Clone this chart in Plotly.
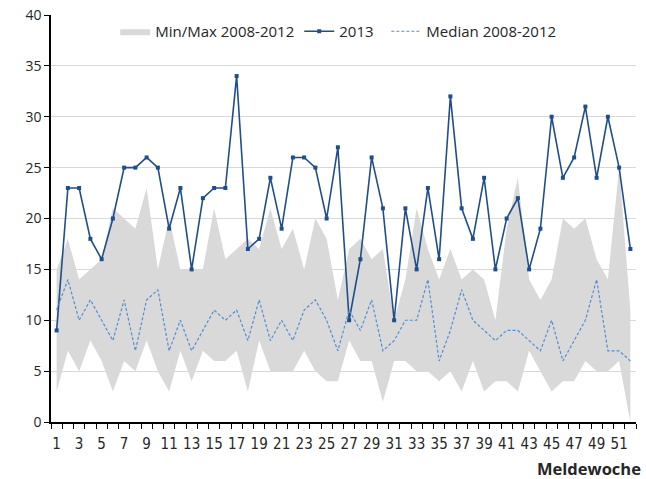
import plotly.graph_objects as go

weeks = list(range(1, 53))
cases_2013 = [9, 23, 23, 18, 16, 20, 25, 25, 26, 25,
              19, 23, 15, 22, 23, 23, 34, 17, 18, 24,
              19, 26, 26, 25, 20, 27, 10, 16, 26, 21,
              10, 21, 15, 23, 16, 32, 21, 18, 24, 15,
              20, 22, 15, 19, 30, 24, 26, 31, 24, 30, 25, 17]
median_0812 = [11, 14, 10, 12, 10, 8, 12, 7, 12, 13,
               7, 10, 7, 9, 11, 10, 11, 8, 12, 8,
               10, 8, 11, 12, 10, 7, 11, 9, 12, 7,
               8, 10, 10, 14, 6, 9, 13, 10, 9, 8,
               9, 9, 8, 7, 10, 6, 8, 10, 14, 7, 7, 6]
max_0812 = [15, 18, 14, 15, 16, 21, 20, 19, 23, 15,
            20, 15, 15, 15, 21, 16, 17, 18, 17, 21,
            17, 19, 15, 20, 18, 12, 17, 18, 16, 17,
            10, 14, 21, 17, 14, 17, 14, 15, 14, 10,
            19, 24, 14, 12, 14, 20, 19, 20, 16, 14, 25, 11]
min_0812 = [3, 7, 5, 8, 6, 3, 6, 5, 8, 5,
            3, 7, 4, 7, 6, 6, 7, 3, 8, 5,
            5, 5, 7, 5, 4, 4, 8, 6, 6, 2,
            6, 6, 5, 5, 4, 5, 3, 6, 3, 4,
            4, 3, 7, 5, 3, 4, 4, 6, 5, 5, 6, 0]
xtick_labels = [str(w) for w in weeks if w % 2 == 1]
ytick_vals = list(range(0, 41, 5))

TEXT = "#262626"
BAND = "#d9d9d9"
DARK = "#1f4e8a"
LIGHT = "#548dd4"
NBSP = "\u00a0"

fig = go.Figure()
fig.add_trace(go.Scatter(x=weeks, y=min_0812, mode="lines", line=dict(width=0, color=BAND),
                         showlegend=False, hoverinfo="skip"))
fig.add_trace(go.Scatter(x=weeks, y=max_0812, mode="lines", line=dict(width=0, color=BAND),
                         fill="tonexty", fillcolor=BAND, name="Min/Max 2008-2012"))
fig.add_trace(go.Scatter(x=weeks, y=cases_2013, mode="lines+markers", name="2013" + NBSP * 2,
                         line=dict(color=DARK, width=1.6),
                         marker=dict(symbol="square", size=4, color=DARK)))
fig.add_trace(go.Scatter(x=weeks, y=median_0812, mode="lines", name="Median 2008-2012",
                         line=dict(color=LIGHT, width=1.2, dash="3px,2px")))

fig.update_layout(
    width=646, height=479,
    margin=dict(l=51.4, r=10, t=14.7, b=57.3),
    paper_bgcolor="white", plot_bgcolor="white",
    font=dict(family="Open Sans, sans-serif", size=15, color=TEXT),
    showlegend=True,
    legend=dict(orientation="h", x=0.491, xanchor="center", y=1.0, yanchor="top",
                bgcolor="rgba(0,0,0,0)", font=dict(size=15, color=TEXT),
                itemwidth=30, traceorder="normal"),
)
fig.update_yaxes(range=[0, 40], tickvals=ytick_vals, showgrid=True, gridcolor="#d9d9d9",
                 gridwidth=1, zeroline=False, showline=True, linecolor="black", linewidth=1.5,
                 ticks="outside", ticklen=5, tickcolor="black", tickwidth=1,
                 ticklabeloverflow="allow", automargin=False,
                 tickfont=dict(size=14, color=TEXT), fixedrange=True)
fig.update_xaxes(range=[0.5, 52.5], tickvals=[w for w in weeks if w % 2 == 1], ticktext=xtick_labels,
                 showgrid=False, zeroline=False, showline=True, linecolor="black", linewidth=2,
                 ticks="outside", ticklen=7, tickcolor="rgba(0,0,0,0)", automargin=False,
                 tickfont=dict(size=15, family="Liberation Sans Narrow, DejaVu Sans Condensed, sans-serif", color=TEXT),
                 minor=dict(tickvals=[w - 0.5 for w in weeks] + [52.5], ticks="outside", ticklen=5,
                            tickcolor="black", tickwidth=1, showgrid=False),
                 fixedrange=True)
fig.add_annotation(text="<b>Meldewoche</b>", xref="paper", yref="paper", x=1, y=0,
                   xanchor="right", yanchor="middle", xshift=7, yshift=-46, showarrow=False,
                   font=dict(size=16.5, color=TEXT, family="Open Sans, sans-serif"))

# remove the browser's default page margin so the 646x479 figure fills the window exactly
fig.write_html("out.html", config={"displayModeBar": False},
               post_script="document.body.style.margin='0';")
